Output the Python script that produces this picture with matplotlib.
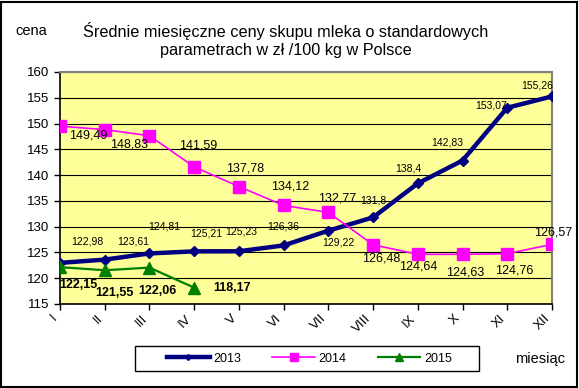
import matplotlib
matplotlib.use("Agg")
import matplotlib.pyplot as plt
from matplotlib.patches import Rectangle

plt.rcParams['font.family'] = ['Liberation Sans', 'DejaVu Sans']

months = ["I", "II", "III", "IV", "V", "VI", "VII", "VIII", "IX", "X", "XI", "XII"]
y2013 = [122.98, 123.61, 124.81, 125.21, 125.23, 126.36, 129.22, 131.8, 138.4, 142.83, 153.07, 155.26]
y2014 = [149.49, 148.83, 147.64, 141.59, 137.78, 134.12, 132.77, 126.48, 124.64, 124.63, 124.76, 126.57]
y2015 = [122.15, 121.55, 122.06, 118.17]

# label offsets in pixels (dx, dy up), None = no label
off2013 = [(27, 21), (28, 18), (15, 27), (12, 18), (2, 20), (0, 19), (10, -12),
           (0, 17), (-10, 15), (-15, 18), (-16, 2), (-15, 11)]
off2014 = [(28, -9), (24, -15), None, (4, 21), (6, 18), (7, 19), (9, 14),
           (8, -14), (0, -12), (3, -18), (7, -17), (1, 12)]
off2015 = [(18, -18), (10, -23), (8, -23), (38, 0)]


def fmt(v):
    s = f"{v:.2f}".rstrip("0").rstrip(".")
    return s.replace(".", ",")


fig = plt.figure(figsize=(5.79, 3.88), dpi=100)
fig.patch.set_facecolor("white")
ax = fig.add_axes([60 / 579, 1 - 304 / 388, 492 / 579, 232 / 388])
ax.set_facecolor("#FFFF99")

x = list(range(12))
ax.plot(x, y2013, color="#000080", lw=3.2, marker="D", ms=5, zorder=3, label="2013")
ax.plot(x, y2014, color="#FF00FF", lw=1.2, marker="s", ms=8.5, zorder=4, label="2014")
ax.plot(x[:4], y2015, color="#008000", lw=1.6, marker="^", ms=9, zorder=5, label="2015")

for i, v in enumerate(y2013):
    ax.annotate(fmt(v), (x[i], v), xytext=off2013[i], textcoords="offset pixels",
                ha="center", va="center", fontsize=7.5, zorder=6)
for i, v in enumerate(y2014):
    if off2014[i] is None:
        continue
    ax.annotate(fmt(v), (x[i], v), xytext=off2014[i], textcoords="offset pixels",
                ha="center", va="center", fontsize=9, zorder=6)
for i, v in enumerate(y2015):
    ax.annotate(fmt(v), (x[i], v), xytext=off2015[i], textcoords="offset pixels",
                ha="center", va="center", fontsize=9, fontweight="bold", zorder=6)

ax.set_xlim(0, 11)
ax.set_ylim(115, 160)
ax.set_yticks(range(115, 161, 5))
ax.set_xticks(x)
ax.set_xticklabels(months, rotation=45, ha="right", fontsize=9.5)
ax.tick_params(axis="y", labelsize=9.5, length=4, width=1, direction="out")
ax.tick_params(axis="x", length=4, width=1, direction="out", pad=2)
ax.yaxis.grid(True, color="black", lw=0.8)
ax.set_axisbelow(True)
for s in ["top", "right"]:
    ax.spines[s].set_color("#808080")
    ax.spines[s].set_linewidth(1.5)
for s in ["left", "bottom"]:
    ax.spines[s].set_color("black")
    ax.spines[s].set_linewidth(1.2)

fig.text(15 / 579, 1 - 31 / 388, "cena", fontsize=10.5, va="center", ha="left")
fig.text(286 / 579, 1 - 40 / 388,
         "Średnie miesięczne ceny skupu mleka o standardowych\nparametrach w zł /100 kg w Polsce",
         fontsize=11.7, ha="center", va="center", linespacing=1.25)
fig.text(515 / 579, 1 - 359 / 388, "miesiąc", fontsize=10.5, va="center", ha="left")

leg = fig.legend(loc="center", bbox_to_anchor=(309.5 / 579, 1 - 358.5 / 388), ncol=3,
                 frameon=False, fontsize=9, handlelength=3.4, handletextpad=0.3,
                 columnspacing=2.5, borderpad=0, markerscale=0.6)
fig.patches.append(Rectangle((135 / 579, 1 - 371 / 388), 344 / 579, 25 / 388,
                             transform=fig.transFigure, fill=False, ec="black", lw=1))
fig.patches.append(Rectangle((1 / 579, 1 / 388), 576 / 579, 385 / 388,
                             transform=fig.transFigure, fill=False, ec="black", lw=1.5))

fig.savefig("out.png", dpi=100)
